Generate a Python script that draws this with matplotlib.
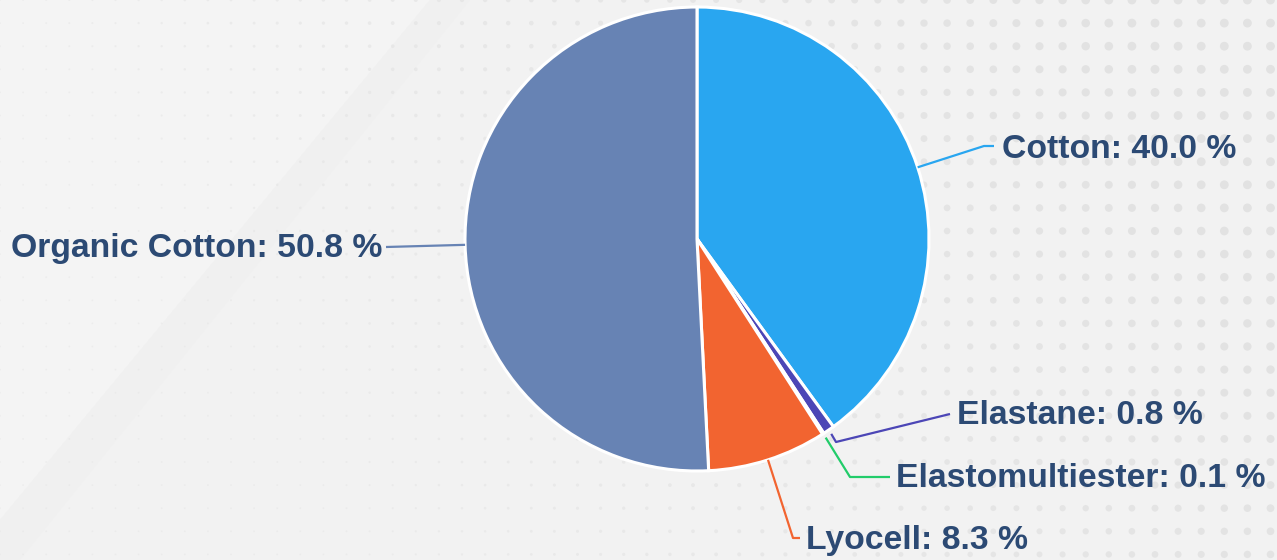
import numpy as np
import matplotlib.pyplot as plt
from matplotlib.patches import Polygon

# data
materials = ["Cotton", "Elastane", "Elastomultiester", "Lyocell", "Organic Cotton"]
shares = [40.0, 0.8, 0.1, 8.3, 50.8]
colors = ["#29a6f0", "#4c46b6", "#22cc6a", "#f26430", "#6783b4"]

# label layout (pixels in the 1277x560 canvas): elbow point, line end, text anchor
elbows = [(984, 146), (836, 442), (850, 477), (793, 538), (386, 247)]
ends = [(994, 146), (950, 414), (890, 477), (800, 538), (386, 247)]
text_pos = [(1002, 150), (957, 416), (896, 479), (806, 541), (382, 249)]
text_ha = ["left", "left", "left", "left", "right"]

W, H = 1277, 560
CX, CY, R = 697, 239, 232

fig = plt.figure(figsize=(W / 100, H / 100), dpi=100)
fig.patch.set_facecolor("#f2f2f2")

# background: soft diagonal band and dot grid
bg = fig.add_axes([0, 0, 1, 1])
bg.set_xlim(0, W)
bg.set_ylim(H, 0)
bg.axis("off")
bg.add_patch(Polygon([(0, 0), (430, 0), (0, 520)], closed=True, fc="#f4f4f4", ec="none"))
bg.add_patch(Polygon([(430, 0), (470, 0), (20, 560), (0, 560), (0, 520)], closed=True, fc="#f0f0f0", ec="none"))
gx, gy = np.meshgrid(np.arange(0, W + 23, 23.1), np.arange(0, H + 23, 23.1))
gx, gy = gx.ravel(), gy.ravel()
t = np.clip((gx - 0.6 * gy) / 1100, 0, 1)
d = 1.8 + 7.0 * t ** 1.2
bg.scatter(gx, gy, s=(d * 0.72) ** 2, c="#e2e2e2", alpha=0.4 + 0.6 * t, linewidths=0)

# pie in pixel-matched units (1 unit = R px)
ax = fig.add_axes([0, 0, 1, 1])
wedges, _ = ax.pie(shares, colors=colors, startangle=90, counterclock=False, radius=1,
                   wedgeprops=dict(edgecolor="white", linewidth=2.2))
ax.set_xlim(-CX / R, (W - CX) / R)
ax.set_ylim(-(H - CY) / R, CY / R)
ax.set_aspect("equal")
ax.axis("off")


def px(p):
    return ((p[0] - CX) / R, (CY - p[1]) / R)


for w, name, val, c, e, f, tp, ha in zip(wedges, materials, shares, colors, elbows, ends, text_pos, text_ha):
    ang = np.deg2rad((w.theta1 + w.theta2) / 2)
    r0 = 1.0 if val > 1 else 1.02
    start = (r0 * np.cos(ang), r0 * np.sin(ang))
    pts = [start, px(e), px(f)]
    ax.plot([p[0] for p in pts], [p[1] for p in pts], color=c, lw=1.6, solid_capstyle="butt")
    ax.text(*px(tp), f"{name}: {val:.1f} %", ha=ha, va="center", fontsize=24.3,
            fontweight="bold", color="#2c4a74", family="Liberation Sans")

fig.savefig("out.png", dpi=100, facecolor=fig.get_facecolor())
